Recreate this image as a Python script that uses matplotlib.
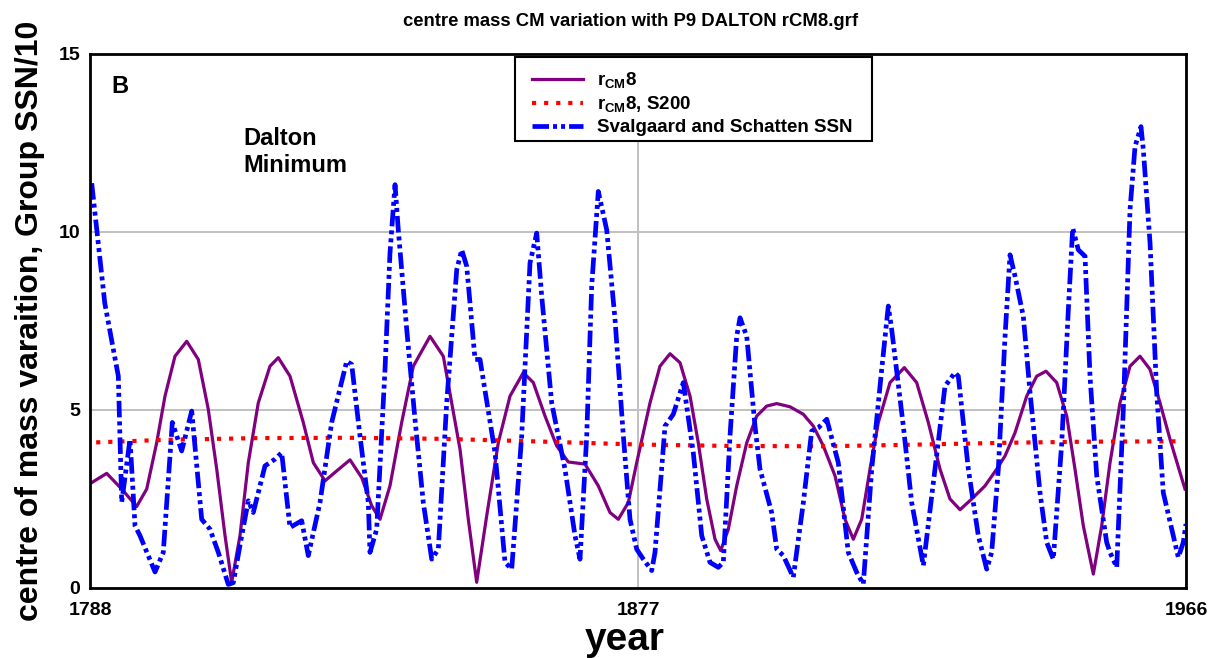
import matplotlib
matplotlib.use("Agg")
import matplotlib.pyplot as plt
from matplotlib.patches import Rectangle

plt.rcParams["font.family"] = "Liberation Sans"
plt.rcParams["font.weight"] = "bold"
plt.rcParams["mathtext.fontset"] = "custom"
plt.rcParams["mathtext.rm"] = "Liberation Sans:bold"
plt.rcParams["mathtext.bf"] = "Liberation Sans:bold"

# r_CM8 curve
rcm_years = [1788.28, 1790.71, 1793.15, 1795.58, 1797.21, 1798.83, 1800.18, 1801.80,
             1803.71, 1805.59, 1807.21, 1808.58, 1809.93, 1811.01, 1812.36, 1813.71,
             1815.33, 1817.23, 1818.58, 1820.48, 1822.64, 1824.27, 1826.17, 1828.07,
             1830.23, 1832.13, 1833.75, 1835.10, 1836.72, 1838.62, 1840.51, 1843.22,
             1845.38, 1846.74, 1848.09, 1849.44, 1850.80, 1852.43, 1854.31, 1856.21,
             1858.37, 1860.00, 1861.90, 1863.80, 1865.68, 1868.39, 1870.55, 1872.45,
             1873.80, 1875.43, 1876.79, 1878.95, 1880.57, 1882.20, 1883.82, 1885.45,
             1886.79, 1888.16, 1889.51, 1890.43, 1891.67, 1893.03, 1894.66, 1896.28,
             1897.90, 1899.53, 1901.69, 1903.85, 1905.47, 1907.10, 1909.00, 1910.62,
             1911.97, 1913.33, 1914.68, 1916.03, 1917.93, 1920.25, 1922.26, 1924.15,
             1926.05, 1927.67, 1929.30, 1931.20, 1933.36, 1935.26, 1936.61, 1938.23,
             1940.13, 1941.75, 1943.26, 1945.00, 1946.63, 1947.97, 1949.32, 1950.95,
             1952.31, 1953.66, 1955.28, 1956.91, 1958.53, 1960.16, 1961.78, 1963.40,
             1965.03, 1965.84]
rcm_values = [2.96, 3.22, 2.78, 2.29, 2.78, 4.08, 5.39, 6.51,
              6.93, 6.42, 5.02, 3.34, 1.47, 0.16, 1.47, 3.52,
              5.20, 6.23, 6.47, 5.95, 4.65, 3.52, 3.01, 3.29,
              3.60, 3.10, 2.31, 1.93, 2.87, 4.65, 6.23, 7.07,
              6.51, 5.20, 3.90, 1.93, 0.16, 2.03, 4.08, 5.39,
              6.05, 5.77, 4.83, 3.99, 3.54, 3.48, 2.87, 2.12,
              1.93, 2.40, 3.52, 5.20, 6.23, 6.58, 6.33, 5.39,
              4.08, 2.50, 1.37, 1.05, 1.65, 2.87, 4.08, 4.83,
              5.11, 5.18, 5.09, 4.88, 4.55, 3.99, 3.15, 1.93,
              1.37, 1.93, 3.34, 4.65, 5.77, 6.19, 5.77, 4.65,
              3.34, 2.50, 2.20, 2.50, 2.87, 3.34, 3.71, 4.36,
              5.39, 5.95, 6.09, 5.77, 4.83, 3.34, 1.75, 0.39,
              1.75, 3.52, 5.20, 6.23, 6.51, 6.14, 5.20, 4.18,
              3.24, 2.78]

# r_CM8 smoothed, S200
s200_years = [1789.0, 1800, 1815, 1830, 1845, 1860, 1877, 1892, 1907, 1920, 1937, 1950, 1964.5]
s200_values = [4.09, 4.16, 4.21, 4.22, 4.19, 4.12, 4.03, 3.99, 3.98, 4.02, 4.08, 4.11, 4.12]

# Svalgaard and Schatten group SSN / 10
ssn_years = [1788.28, 1790.40, 1792.60, 1793.15, 1794.50, 1795.31, 1796.12, 1798.56,
             1799.90, 1801.37, 1802.89, 1804.52, 1806.14, 1807.49, 1808.84, 1810.46,
             1811.27, 1812.64, 1813.71, 1814.52, 1816.42, 1818.05, 1819.13, 1820.48,
             1822.38, 1823.45, 1825.35, 1827.25, 1829.69, 1830.50, 1831.85, 1833.20,
             1833.47, 1834.56, 1835.91, 1836.72, 1837.54, 1838.07, 1839.44, 1840.78,
             1842.13, 1843.50, 1844.57, 1845.93, 1847.56, 1848.37, 1849.18, 1850.53,
             1851.34, 1853.78, 1855.40, 1856.49, 1858.11, 1859.46, 1860.55, 1861.36,
             1862.98, 1865.14, 1866.77, 1867.58, 1868.67, 1869.48, 1870.55, 1871.92,
             1873.27, 1874.62, 1875.70, 1876.79, 1877.86, 1879.23, 1879.76, 1881.39,
             1882.73, 1884.36, 1885.98, 1887.35, 1888.69, 1890.04, 1890.86, 1891.94,
             1893.03, 1893.57, 1894.66, 1896.00, 1896.81, 1898.71, 1899.53, 1900.60,
             1902.22, 1903.85, 1905.21, 1906.28, 1907.65, 1909.53, 1911.15, 1912.52,
             1913.59, 1914.96, 1916.58, 1917.65, 1918.20, 1920.09, 1921.45, 1923.34,
             1925.24, 1926.86, 1928.48, 1929.02, 1930.65, 1932.27, 1933.63, 1934.44,
             1935.52, 1936.61, 1937.42, 1938.23, 1939.58, 1940.67, 1942.29, 1943.38,
             1944.45, 1945.82, 1946.89, 1947.60, 1948.51, 1949.60, 1950.41, 1951.50,
             1953.12, 1953.66, 1954.75, 1955.82, 1956.91, 1957.72, 1958.69, 1959.07,
             1960.16, 1961.24, 1962.31, 1963.94, 1964.75, 1965.56, 1966.0]
ssn_values = [11.37, 8.0, 5.95, 2.41, 4.18, 1.75, 1.47, 0.45,
              1.0, 4.65, 3.85, 4.97, 1.93, 1.65, 1.0, 0.1,
              0.15, 1.47, 2.45, 2.12, 3.43, 3.62, 3.8, 1.7,
              1.89, 0.91, 2.4, 4.65, 6.37, 6.28, 4.27, 2.4,
              1.0, 1.65, 6.14, 9.41, 11.33, 10.06, 7.26, 4.74,
              2.4, 0.81, 1.09, 5.2, 8.94, 9.5, 9.04, 6.42,
              6.42, 3.8, 0.72, 0.53, 4.27, 9.13, 9.97, 8.2,
              5.2, 3.34, 1.47, 0.81, 4.27, 8.48, 11.14, 10.06,
              7.54, 4.27, 1.93, 1.09, 0.81, 0.49, 1.0, 4.55,
              4.88, 5.77, 3.8, 1.47, 0.72, 0.58, 0.72, 4.27,
              7.07, 7.59, 7.07, 4.55, 3.34, 2.12, 1.09, 0.91,
              0.3, 2.4, 4.41, 4.5, 4.74, 3.52, 1.0, 0.44,
              0.11, 3.34, 6.14, 7.92, 7.26, 4.55, 2.4, 0.63,
              3.34, 5.67, 6.05, 5.95, 3.34, 1.47, 0.53, 1.0,
              3.34, 7.07, 9.36, 8.76, 7.63, 5.49, 2.68, 1.28,
              0.81, 4.08, 7.82, 10.11, 9.5, 9.32, 5.95, 3.15,
              1.28, 1.0, 0.58, 5.02, 10.63, 12.4, 12.96, 12.31,
              9.69, 5.49, 2.68, 1.47, 0.86, 1.28, 1.8]

x_ticks = [1788, 1877, 1966]
y_ticks = [0, 5, 10, 15]

fig = plt.figure(figsize=(12.1, 6.58), dpi=100)
ax = fig.add_axes([90 / 1210, 1 - 588 / 658, 1096 / 1210, 534 / 658])

ax.plot(rcm_years, rcm_values, color="#800080", lw=2.3, label=r"r$_{\mathbf{CM}}$8")
ax.plot(s200_years, s200_values, color="red", lw=3.0, linestyle=(0, (1, 1.9)),
        label=r"r$_{\mathbf{CM}}$8, S200")
ax.plot(ssn_years, ssn_values, color="blue", lw=3.4,
        linestyle=(0, (3.5, 0.85, 0.85, 0.85, 0.85, 0.85)), dash_capstyle="butt",
        label="Svalgaard and Schatten SSN")

ax.set_xlim(1788, 1966)
ax.set_ylim(0, 15)
ax.set_xticks(x_ticks)
ax.set_yticks(y_ticks)
ax.tick_params(length=0, labelsize=14)
ax.tick_params(axis="x", pad=10)
ax.tick_params(axis="y", pad=7)
ax.grid(True, color="#c0c0c0", lw=1.4)
ax.set_axisbelow(True)
for spine in ax.spines.values():
    spine.set_linewidth(2.0)
    spine.set_zorder(5)

ax.text(1791.5, 14.08, "B", fontsize=17, fontweight="bold", ha="left", va="center")
ax.text(1812.85, 12.25, "Dalton\nMinimum", fontsize=17, fontweight="bold",
        ha="left", va="center", linespacing=1.2)

# legend box drawn on its own so the padding matches the original
box = Rectangle((515 / 1210, 1 - 141 / 658), 357 / 1210, 84 / 658,
                transform=fig.transFigure, facecolor="white", edgecolor="black",
                lw=1.5, zorder=6, clip_on=False)
ax.add_patch(box)
leg = ax.legend(loc="upper left", bbox_to_anchor=(532 / 1210, 1 - 71 / 658),
                bbox_transform=fig.transFigure, fontsize=13.5, frameon=False,
                borderaxespad=0, borderpad=0, handlelength=2.7, handletextpad=0.75,
                labelspacing=0.2)
leg.set_zorder(7)

fig.text(631 / 1210, 1 - 22 / 658, "centre mass CM variation with P9 DALTON rCM8.grf",
         fontsize=13.3, fontweight="bold", ha="center", va="center")
fig.text(625 / 1210, 8 / 658, "year", fontsize=28, fontweight="bold",
         ha="center", va="baseline")
fig.text(30 / 1210, 1 - 321 / 658, "centre of mass varaition, Group SSN/10",
         fontsize=23, fontweight="bold", rotation=90, ha="center", va="center")

fig.savefig("out.png", dpi=100)
plt.close()
